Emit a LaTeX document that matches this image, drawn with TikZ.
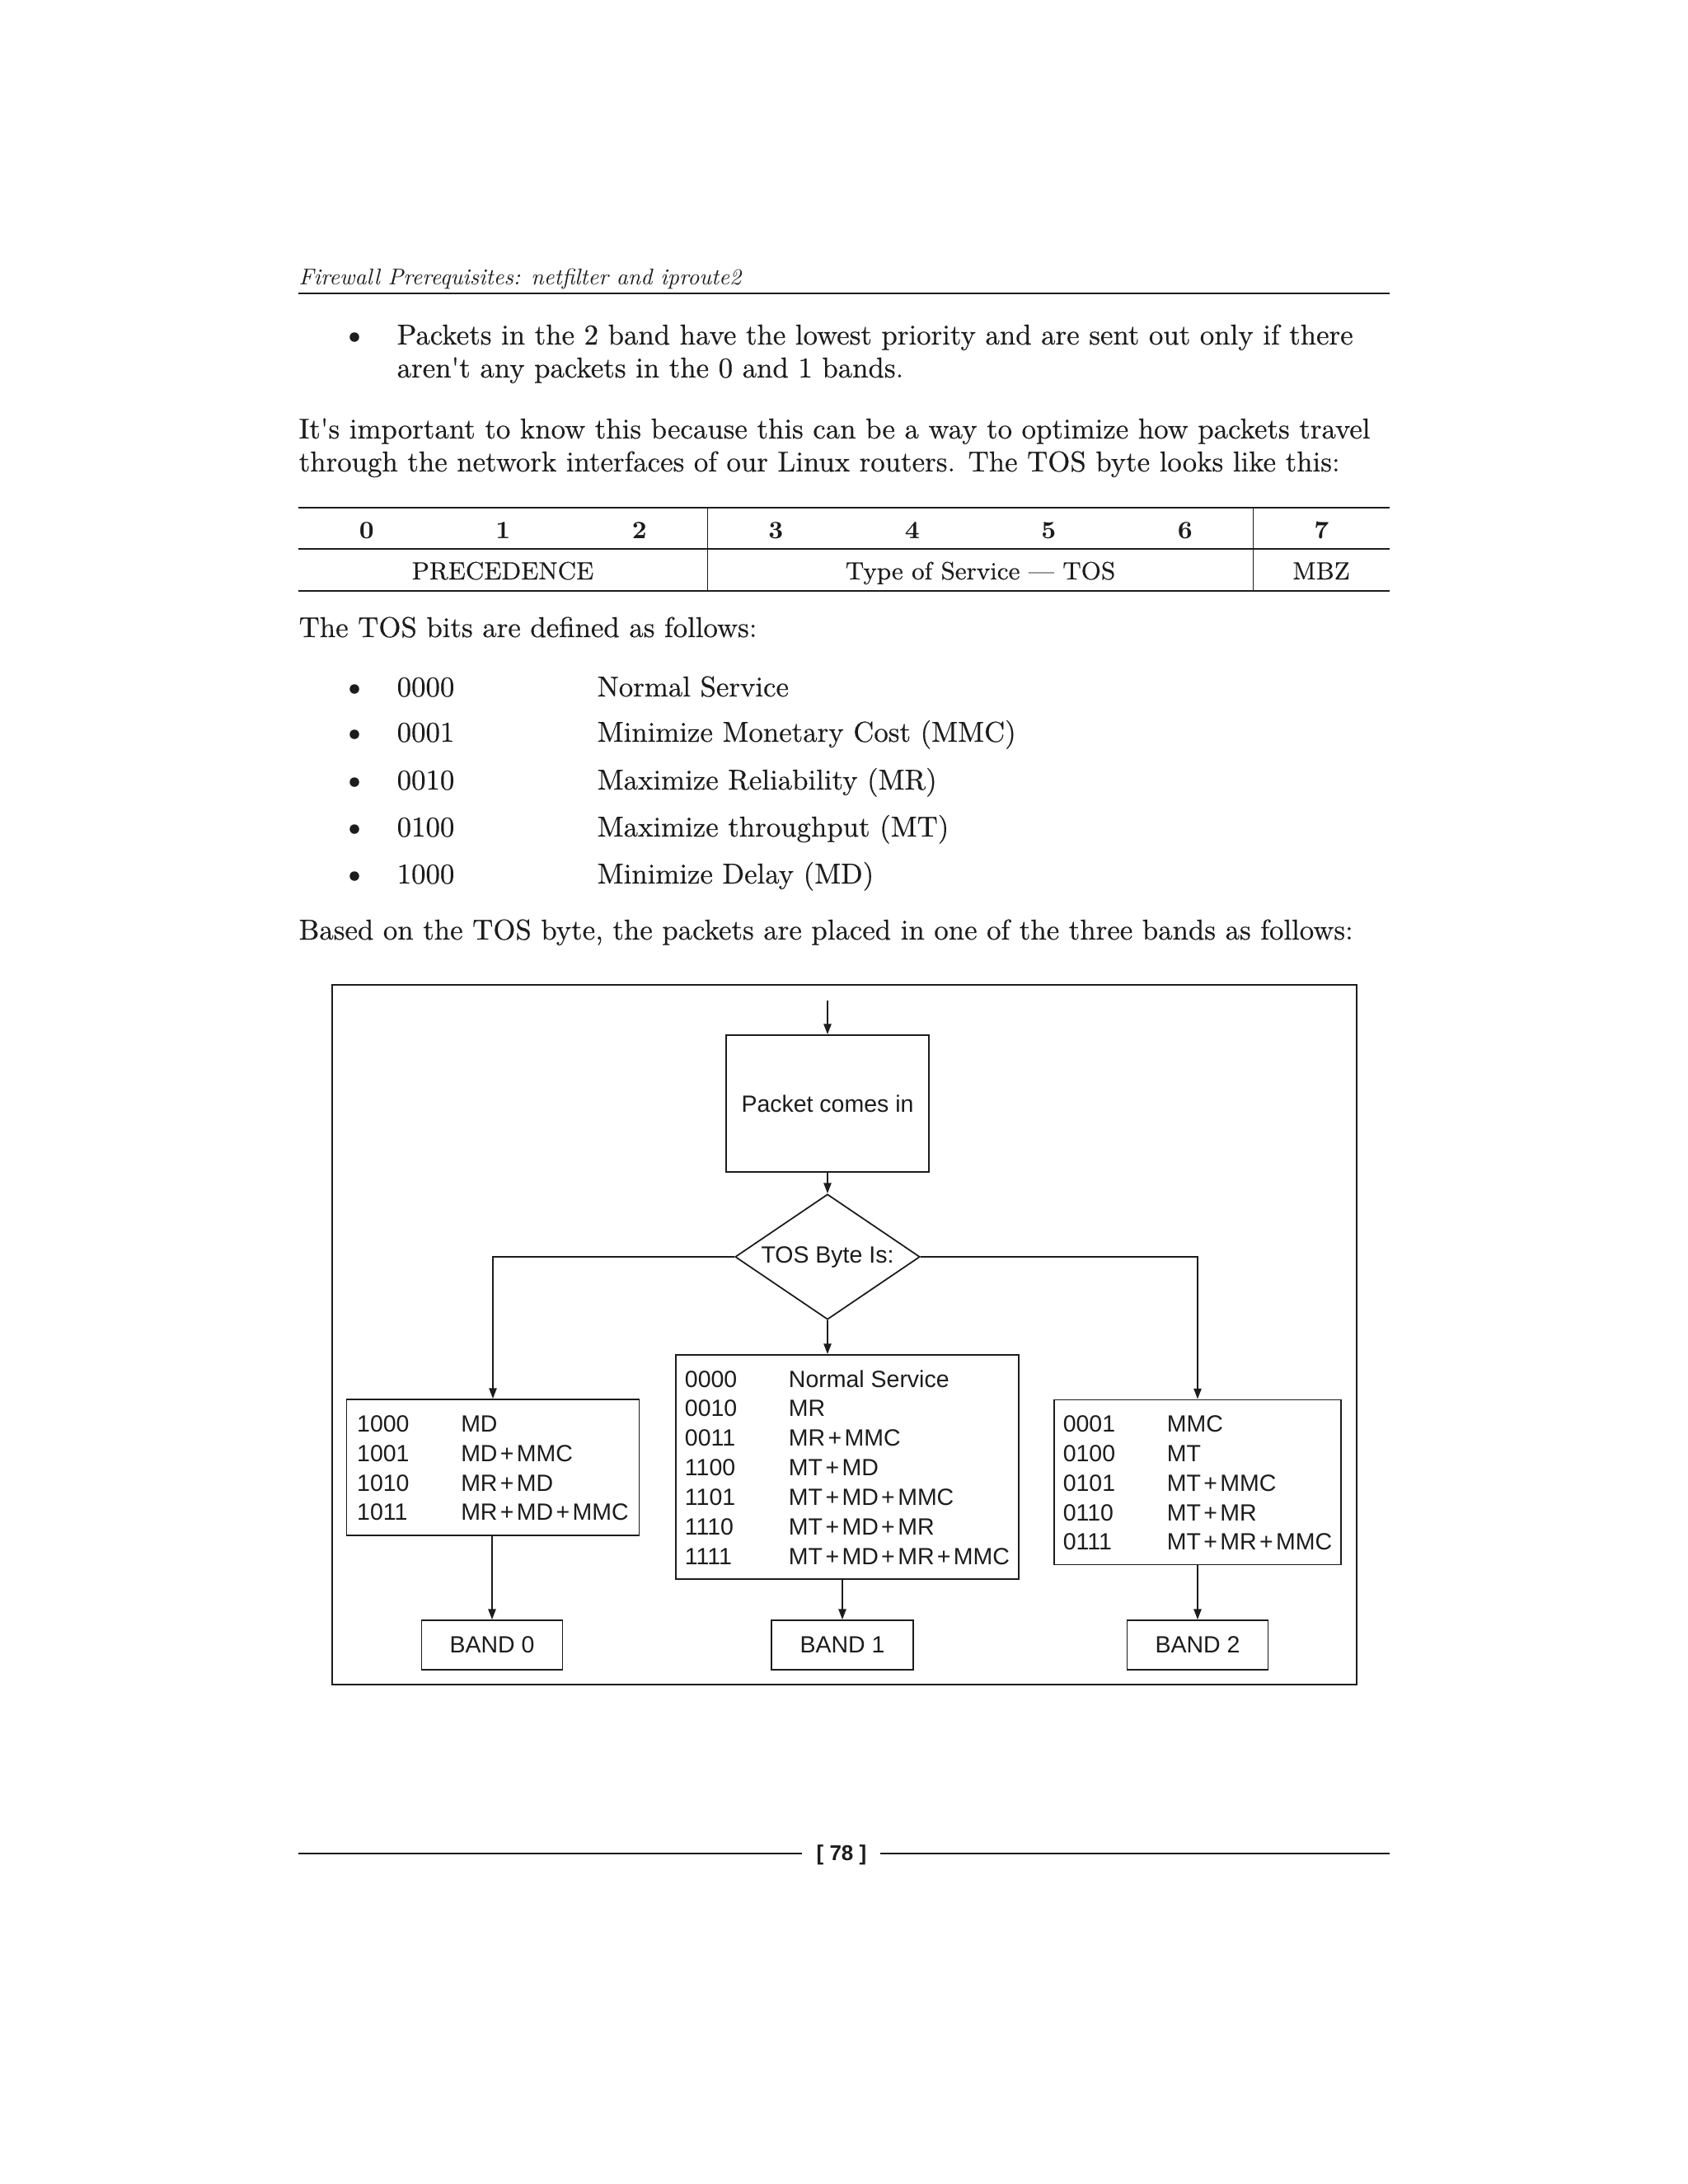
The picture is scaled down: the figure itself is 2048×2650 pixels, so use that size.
\documentclass[tikz,border=0pt]{standalone}
\usepackage{fontspec}
\newfontfamily\diagfont{Liberation Sans}
\newfontfamily\bookfont{Latin Modern Roman}[FakeBold=0.4]
\newfontfamily\headfont{lmroman10-italic.otf}
\usetikzlibrary{arrows.meta,positioning,shapes.geometric}
\definecolor{ink}{HTML}{1C1C1C}
\newcommand{\bodysize}{\fontsize{9.9}{12}\selectfont}
\newcommand{\tabsize}{\fontsize{8.6}{10}\selectfont}
\newcommand{\flowsize}{\fontsize{8.1}{10.2}\selectfont}
\newcommand{\tosrow}[2]{\makebox[1.26cm][l]{#1}#2}
\newcommand{\plus}{\kern0.034cm+\kern0.034cm}
\newcommand{\firstrow}{\rule{0pt}{9.1pt}}

\begin{document}
\begin{tikzpicture}[x=0.01cm,y=-0.01cm,
  body/.style={anchor=base west,inner sep=0pt,text=ink,font=\bookfont\bodysize},
  cell/.style={anchor=base,inner sep=0pt,text=ink,font=\bookfont\tabsize},
  dotmark/.style={circle,fill=ink,inner sep=0pt,minimum size=0.115cm},
  pagerule/.style={ink,line width=0.6pt},
  flowbox/.style={draw=ink,line width=0.5pt,inner sep=0pt,text=ink,font=\diagfont\flowsize,align=left},
  flowarrow/.style={ink,line width=0.5pt,-{Triangle[length=3.6pt,width=2.6pt]}}]
% page
\fill[white] (0,0) rectangle (2048,2650);

% running head
\node[anchor=base west,inner sep=0pt,text=ink,font=\headfont\fontsize{7.85}{9}\selectfont] (runhead) at (362,345) {Firewall Prerequisites: netfilter and iproute2};
\draw[pagerule] (362,356) -- (1686,356);

% first bullet and paragraph
\node[dotmark] (dot0) at (430,409) {};
\node[body] (band2a) at (481,418) {Packets in the 2 band have the lowest priority and are sent out only if there};
\node[body] (band2b) at (481,458) {aren't any packets in the 0 and 1 bands.};
\node[body] (parA) at (362,532) {It's important to know this because this can be a way to optimize how packets travel};
\node[body] (parB) at (362,572) {through the network interfaces of our Linux routers. The TOS byte looks like this:};

% TOS byte table
\draw[pagerule] (362,616) -- (1686,616);
\draw[pagerule] (362,666) -- (1686,666);
\draw[pagerule] (362,717) -- (1686,717);
\draw[ink,line width=0.4pt] (858.5,616) -- (858.5,717);
\draw[ink,line width=0.4pt] (1520.5,616) -- (1520.5,717);
\foreach \b in {0,...,7}{
  \node[cell,font=\bfseries\tabsize] (bit\b) at ({362+165.5*(\b+0.5)},653) {\b};
}
\node[cell] (prec) at (610,703) {PRECEDENCE};
\node[cell] (tosfield) at (1189.5,703) {Type of Service — TOS};
\node[cell] (mbz) at (1603,703) {MBZ};

% TOS bit list
\node[body] (bitsintro) at (362,773) {The TOS bits are defined as follows:};
\foreach \y/\c/\d [count=\i] in {845/0000/Normal Service,900/0001/Minimize Monetary Cost (MMC),958/0010/Maximize Reliability (MR),1015/0100/Maximize throughput (MT),1072/1000/Minimize Delay (MD)}{
  \node[dotmark] (dot\i) at (430,\y-9) {};
  \node[body] (code\i) at (481,\y) {\c};
  \node[body] (meaning\i) at (724,\y) {\d};
}
\node[body] (bandsintro) at (362,1140) {Based on the TOS byte, the packets are placed in one of the three bands as follows:};

% flowchart
\draw[ink,line width=0.6pt] (403,1195) rectangle (1646,2044);
\coordinate (entry) at (1004,1214);
\node[flowbox,align=center,minimum width=2.46cm,minimum height=1.66cm] (packet) at (1004,1339) {Packet comes in};
\node[flowbox,diamond,aspect=1.47,minimum width=2.24cm,minimum height=1.52cm] (tosbyte) at (1004,1525) {TOS Byte Is:};
\node[flowbox,minimum width=3.55cm,minimum height=1.65cm] (mdbox) at (598,1780.5) {\begin{tabular}{@{}l@{}}
  \firstrow\tosrow{1000}{MD}\\ \tosrow{1001}{MD\plus MMC}\\ \tosrow{1010}{MR\plus MD}\\ \tosrow{1011}{MR\plus MD\plus MMC}\end{tabular}};
\node[flowbox,minimum width=4.16cm,minimum height=2.72cm] (nsbox) at (1028,1780) {\begin{tabular}{@{}l@{}}
  \firstrow\tosrow{0000}{Normal Service}\\ \tosrow{0010}{MR}\\ \tosrow{0011}{MR\plus MMC}\\ \tosrow{1100}{MT\plus MD}\\
  \tosrow{1101}{MT\plus MD\plus MMC}\\ \tosrow{1110}{MT\plus MD\plus MR}\\ \tosrow{1111}{MT\plus MD\plus MR\plus MMC}\end{tabular}};
\node[flowbox,minimum width=3.48cm,minimum height=2.0cm] (mmcbox) at (1453,1798.5) {\begin{tabular}{@{}l@{}}
  \firstrow\tosrow{0001}{MMC}\\ \tosrow{0100}{MT}\\ \tosrow{0101}{MT\plus MMC}\\ \tosrow{0110}{MT\plus MR}\\ \tosrow{0111}{MT\plus MR\plus MMC}\end{tabular}};
\node[flowbox,align=center,minimum width=1.71cm,minimum height=0.60cm] (band0) at (597,1996) {BAND 0};
\node[flowbox,align=center,minimum width=1.72cm,minimum height=0.60cm] (band1) at (1022,1996) {BAND 1};
\node[flowbox,align=center,minimum width=1.71cm,minimum height=0.60cm] (band2) at (1453,1996) {BAND 2};

\draw[flowarrow] (entry) -- (packet.north);
\draw[flowarrow] (packet.south) -- (tosbyte.north);
\draw[flowarrow] (tosbyte.west) -| (mdbox.north);
\draw[flowarrow] (tosbyte.east) -| (mmcbox.north);
\draw[flowarrow] (tosbyte.south) -- (tosbyte.south |- nsbox.north);
\draw[flowarrow] (band0.north |- mdbox.south) -- (band0.north);
\draw[flowarrow] (band1.north |- nsbox.south) -- (band1.north);
\draw[flowarrow] (band2.north |- mmcbox.south) -- (band2.north);

% folio
\node[anchor=base,inner sep=0pt,text=ink,font=\diagfont\fontsize{7.4}{9}\selectfont\bfseries] (folio) at (1021,2257) {[ 78 ]};
\draw[pagerule] (362,2249) -- (973,2249);
\draw[pagerule] (1068,2249) -- (1686,2249);
\end{tikzpicture}
\end{document}
